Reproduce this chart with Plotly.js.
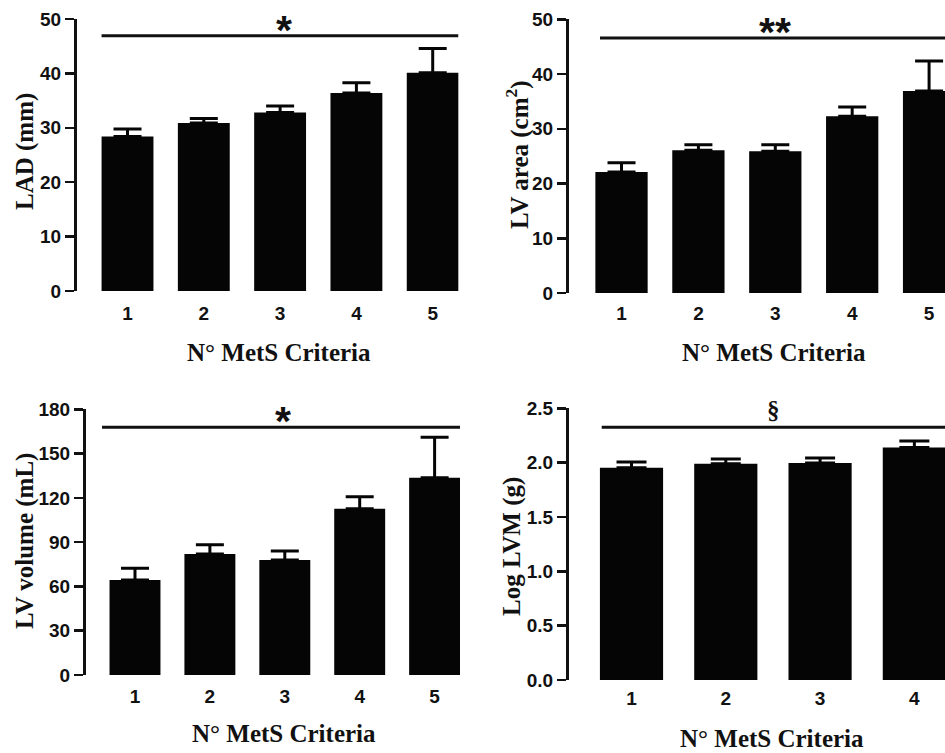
<!DOCTYPE html>
<html>
<head>
<meta charset="utf-8">
<script src="https://cdn.plot.ly/plotly-3.0.1.min.js"></script>
<style>html,body{margin:0;padding:0;background:#fff;}#chart{width:945px;height:753px;}</style>
</head>
<body>
<div id="chart"></div>
<script>
// ---- data ----
const criteria = [1, 2, 3, 4, 5];
const criteriaLabels = ['1', '2', '3', '4', '5'];

const ladMean = [28.4, 30.9, 32.8, 36.4, 40.1];
const ladErr  = [1.4, 0.8, 1.2, 1.9, 4.5];

const lvAreaMean = [22.1, 26.1, 25.9, 32.3, 36.9];
const lvAreaErr  = [1.7, 1.0, 1.2, 1.7, 5.5];

const lvVolMean = [64.4, 82.0, 77.9, 112.7, 133.7];
const lvVolErr  = [7.9, 6.3, 6.1, 8.1, 27.3];

const lvmCriteria = [1, 2, 3, 4];
const logLvmMean = [1.953, 1.99, 1.996, 2.14];
const logLvmErr  = [0.053, 0.043, 0.046, 0.059];

const sigMarks = ['*', '**', '*', '§'];
const sigLineY = [46.9, 46.6, 167.8, 2.325];

const yTitles = ['LAD (mm)', 'LV area (cm<sup>2</sup>)', 'LV volume (mL)', 'Log LVM (g)'];
const xTitle = 'N° MetS Criteria';

// ---- styling ----
const BAR = '#050505';
const tickFont = {family: 'Liberation Sans', size: 19, color: '#111', weight: 'bold'};
const titleFont = {family: 'Liberation Serif', size: 25, color: '#111', weight: 'bold'};
const starFont = {family: 'Liberation Sans', size: 41, color: '#111', weight: 'bold'};

function bar(x, y, err, ax, capw, w) {
  return {
    type: 'bar', x: x, y: y, xaxis: 'x' + ax, yaxis: 'y' + ax,
    width: w, marker: {color: BAR, line: {width: 0}},
    error_y: {type: 'data', symmetric: false, array: err, arrayminus: x.map(() => 0),
              color: BAR, thickness: 3, width: capw},
    hoverinfo: 'skip', showlegend: false
  };
}

const data = [
  bar(criteria, ladMean, ladErr, '', 14, 0.68),
  bar(criteria, lvAreaMean, lvAreaErr, '2', 14, 0.68),
  bar(criteria, lvVolMean, lvVolErr, '3', 14, 0.68),
  bar(lvmCriteria, logLvmMean, logLvmErr, '4', 15, 0.67)
];

function yax(domain, range, dtick, fmt) {
  return {
    domain: domain, range: range, dtick: dtick, tick0: 0, tickformat: fmt || '',
    showgrid: false, zeroline: false, showline: true, linewidth: 3, linecolor: '#111',
    ticks: 'outside', ticklen: 9, tickwidth: 2.5, tickcolor: '#111',
    tickfont: tickFont, fixedrange: true
  };
}
function xax(domain, range, anchor, tl, n) {
  return {
    domain: domain, range: range, anchor: anchor,
    tickvals: criteria.slice(0, n), ticktext: criteriaLabels.slice(0, n),
    showgrid: false, zeroline: false, showline: false,
    ticks: 'outside', ticklen: tl, tickcolor: 'rgba(0,0,0,0)',
    tickfont: tickFont, fixedrange: true
  };
}

const W = 945, H = 753;
const px = v => v / W, py = v => 1 - v / H;

function title(x, y, text, rot) {
  return {xref: 'paper', yref: 'paper', x: px(x), y: py(y), xanchor: 'center', yanchor: 'middle',
          text: text, textangle: rot, showarrow: false, font: titleFont};
}
function mark(ax, x, y, text, font) {
  return {xref: 'x' + ax, yref: 'y' + ax, x: x, y: y, xanchor: 'center', yanchor: 'middle',
          text: text, showarrow: false, font: font};
}

const layout = {
  width: W, height: H, margin: {l: 0, r: 0, t: 0, b: 0},
  paper_bgcolor: '#fff', plot_bgcolor: 'rgba(0,0,0,0)',
  showlegend: false,
  xaxis:  xax([px(77), px(458.5)], [0.338, 5.338], 'y', 5, 5),
  yaxis:  yax([py(291), py(19)], [0, 50], 10),
  xaxis2: xax([px(569), 1], [0.317, 5.207], 'y2', 3, 5),
  yaxis2: Object.assign(yax([py(293), py(19.3)], [0, 50], 10), {anchor: 'x2'}),
  xaxis3: xax([px(86), px(460)], [0.346, 5.339], 'y3', 4, 5),
  yaxis3: Object.assign(yax([py(675), py(409.3)], [0, 180], 30), {anchor: 'x3'}),
  xaxis4: xax([px(569), 1], [0.337, 4.325], 'y4', 1, 4),
  yaxis4: Object.assign(yax([py(680), py(408.3)], [0, 2.5], 0.5, '.1f'), {anchor: 'x4'}),
  shapes: [
    {type: 'line', xref: 'x',  yref: 'y',  x0: 0.66,  x1: 5.338, y0: sigLineY[0], y1: sigLineY[0], line: {color: '#111', width: 3}},
    {type: 'line', xref: 'x2', yref: 'y2', x0: 0.72,  x1: 5.207, y0: sigLineY[1], y1: sigLineY[1], line: {color: '#111', width: 3}},
    {type: 'line', xref: 'x3', yref: 'y3', x0: 0.56,  x1: 5.339, y0: sigLineY[2], y1: sigLineY[2], line: {color: '#111', width: 3}},
    {type: 'line', xref: 'x4', yref: 'y4', x0: 0.684, x1: 4.325, y0: sigLineY[3], y1: sigLineY[3], line: {color: '#111', width: 3}}
  ],
  annotations: [
    mark('',  3.05, 47.9, sigMarks[0], starFont),
    mark('2', 3.0,  47.7, sigMarks[1], starFont),
    mark('3', 2.98, 171.8, sigMarks[2], starFont),
    mark('4', 2.51, 2.48, sigMarks[3], {family: 'Liberation Serif', size: 25, color: '#111', weight: 'bold'}),
    title(25,  152, yTitles[0], -90),
    title(517, 155, yTitles[1], -90),
    title(25,  541, yTitles[2], -90),
    title(512, 547, yTitles[3], -90),
    title(279, 352, xTitle, 0),
    title(774, 352, xTitle, 0),
    title(284, 733, xTitle, 0),
    title(772, 738, xTitle, 0)
  ]
};

Plotly.newPlot('chart', data, layout, {displayModeBar: false, staticPlot: true});
</script>
</body>
</html>
